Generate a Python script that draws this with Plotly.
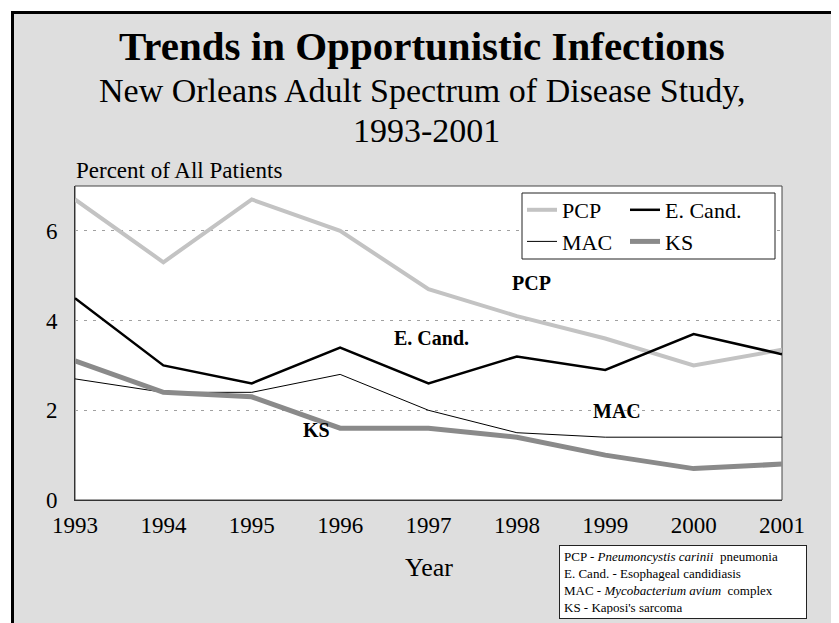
"""Trends in opportunistic infections, New Orleans ASD study 1993-2001."""

import plotly.graph_objects as go

YEARS = [1993, 1994, 1995, 1996, 1997, 1998, 1999, 2000, 2001]
PCP = [6.7, 5.3, 6.7, 6.0, 4.7, 4.1, 3.6, 3.0, 3.35]
E_CAND = [4.5, 3.0, 2.6, 3.4, 2.6, 3.2, 2.9, 3.7, 3.25]
MAC = [2.7, 2.4, 2.4, 2.8, 2.0, 1.5, 1.4, 1.4, 1.4]
KS = [3.1, 2.4, 2.3, 1.6, 1.6, 1.4, 1.0, 0.7, 0.8]
Y_TICKS = [0, 2, 4, 6]

# in-plot labels: (text, year, percent)
LINE_LABELS = [
    ("PCP", 1998.17, 4.83),
    ("E. Cand.", 1997.03, 3.61),
    ("MAC", 1999.13, 1.98),
    ("KS", 1995.73, 1.55),
]

FOOTNOTE = (
    "PCP - <i>Pneumoncystis carinii</i>  pneumonia<br>"
    "E. Cand. - Esophageal candidiasis<br>"
    "MAC - <i>Mycobacterium avium</i>  complex<br>"
    "KS - Kaposi's sarcoma"
)

SERIF = "Liberation Serif, Times New Roman, serif"
OFF = 8  # page body margin
W, H = 839 - OFF, 623 - OFF
M = dict(l=75 - OFF, r=57, t=186 - OFF, b=123)
PW = W - M["l"] - M["r"]
PH = H - M["t"] - M["b"]


def px(x):
    # screen pixel -> paper x
    return (x - OFF - M["l"]) / PW


def py(y):
    # screen pixel -> paper y
    return (H - M["b"] - (y - OFF)) / PH


fig = go.Figure()
series = [
    ("PCP", PCP, dict(color="#c3c3c3", width=4), "legend"),
    ("E. Cand.", E_CAND, dict(color="#000000", width=2.5), "legend2"),
    ("MAC", MAC, dict(color="#000000", width=1), "legend"),
    ("KS", KS, dict(color="#8a8a8a", width=5), "legend2"),
]
for name, values, line, legend in series:
    fig.add_trace(
        go.Scatter(
            x=YEARS,
            y=values,
            mode="lines",
            name=name,
            line=line,
            legend=legend,
            hoverinfo="skip",
        )
    )

# grey slide background with black frame, white plot area, white legend box
fig.add_shape(
    type="rect", xref="paper", yref="paper",
    x0=px(12.5), x1=px(900), y0=py(700), y1=py(12.5),
    fillcolor="#dedede", line=dict(color="black", width=3), layer="below",
)
fig.add_shape(
    type="rect", xref="paper", yref="paper",
    x0=0, x1=1, y0=0, y1=1,
    fillcolor="white", line=dict(color="#444", width=1), layer="below",
)
fig.add_shape(
    type="rect", xref="paper", yref="paper",
    x0=px(522), x1=px(775), y0=py(259), y1=py(193),
    fillcolor="white", line=dict(color="#222", width=1), layer="above",
)

annotations = [
    dict(text="<b>Trends in Opportunistic Infections</b>", x=px(422), y=py(46),
         font=dict(size=41)),
    dict(text="New Orleans Adult Spectrum of Disease Study,", x=px(422), y=py(91),
         font=dict(size=34)),
    dict(text="1993-2001", x=px(426), y=py(131), font=dict(size=34)),
    dict(text="Percent of All Patients", x=px(74), y=py(170), xanchor="left",
         font=dict(size=23)),
    dict(text="Year", x=0.5, y=py(567), font=dict(size=26)),
    dict(text=FOOTNOTE, x=px(683), y=py(581.5), font=dict(size=13),
         align="left", width=238, height=64, borderpad=4,
         bgcolor="white", bordercolor="#222", borderwidth=1),
]
for ann in annotations:
    ann.setdefault("xanchor", "center")
    ann.update(xref="paper", yref="paper", yanchor="middle", showarrow=False)
    ann["font"] = dict(family=SERIF, color="black", **ann["font"])
    fig.add_annotation(**ann)

for text, x, y in LINE_LABELS:
    fig.add_annotation(
        text=f"<b>{text}</b>", x=x, y=y, showarrow=False,
        font=dict(family=SERIF, size=20, color="black"),
    )

legend_style = dict(
    orientation="v", xanchor="left", yanchor="top",
    bgcolor="rgba(0,0,0,0)", borderwidth=0,
    font=dict(family=SERIF, size=22, color="black"),
    itemwidth=30,
)
fig.update_layout(
    width=W,
    height=H,
    margin=M,
    paper_bgcolor="white",
    plot_bgcolor="rgba(0,0,0,0)",
    font=dict(family=SERIF, color="black"),
    showlegend=True,
    legend=dict(x=px(522), y=py(189), **legend_style),
    legend2=dict(x=px(625), y=py(189), **legend_style),
    xaxis=dict(
        range=[1993, 2001],
        tickvals=YEARS,
        showgrid=False,
        zeroline=False,
        showline=True,
        linecolor="#333",
        linewidth=1,
        ticks="",
        ticklabelstandoff=4,
        tickfont=dict(family=SERIF, size=23, color="black"),
        fixedrange=True,
    ),
    yaxis=dict(
        range=[0, 7],
        tickvals=Y_TICKS,
        showgrid=True,
        gridcolor="#a0a0a0",
        griddash="3px,6px",
        gridwidth=1,
        zeroline=False,
        showline=True,
        linecolor="#333",
        linewidth=1,
        ticks="",
        ticklabelstandoff=12,
        tickfont=dict(family=SERIF, size=23, color="black"),
        fixedrange=True,
    ),
)

fig.write_html("out.html")
